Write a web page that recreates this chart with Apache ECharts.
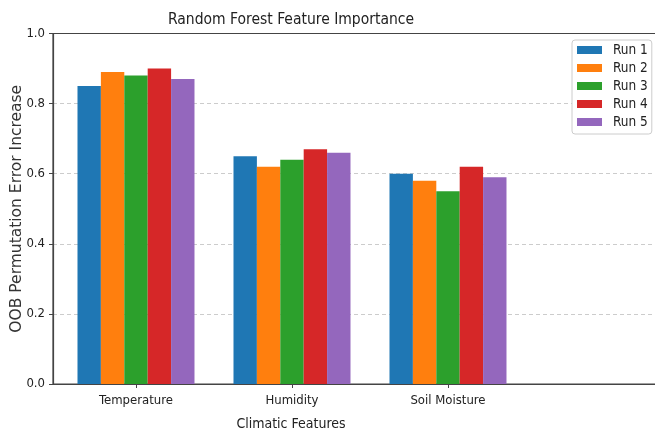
<!DOCTYPE html>
<html><head><meta charset="utf-8">
<script src="https://cdn.jsdelivr.net/npm/echarts@6/dist/echarts.min.js"></script>
<style>html,body{margin:0;padding:0;background:#fff}#c{width:655px;height:434px}</style>
</head><body><div id="c"></div>
<script>
const categories = ['Temperature', 'Humidity', 'Soil Moisture'];
const seriesNames = ['Run 1', 'Run 2', 'Run 3', 'Run 4', 'Run 5'];
const run1 = [0.85, 0.65, 0.60];
const run2 = [0.89, 0.62, 0.58];
const run3 = [0.88, 0.64, 0.55];
const run4 = [0.90, 0.67, 0.62];
const run5 = [0.87, 0.66, 0.59];
const xTickValues = [0, 1, 2];
const colors = ['#1f77b4', '#ff7f0e', '#2ca02c', '#d62728', '#9467bd'];
const runs = [run1, run2, run3, run4, run5];
const FONT = "'DejaVu Sans Condensed', 'DejaVu Sans', sans-serif";
const FONT_N = "'DejaVu Sans', sans-serif";

const chart = echarts.init(document.getElementById('c'), null, {renderer: 'canvas'});
chart.setOption({
  animation: false,
  textStyle: {fontFamily: FONT},
  title: {
    text: 'Random Forest Feature Importance',
    left: 286, top: 7, textAlign: 'center',
    textStyle: {fontFamily: FONT, fontSize: 15.5, fontWeight: 'normal', color: '#222'}
  },
  legend: {
    data: seriesNames,
    orient: 'vertical',
    left: 572, top: 40,
    itemWidth: 25, itemHeight: 8, itemGap: 4.0,
    icon: 'rect',
    padding: [3, 4, 5, 5],
    borderColor: '#ccc', borderWidth: 1, borderRadius: 3,
    backgroundColor: '#fff',
    textStyle: {fontFamily: FONT, fontSize: 13.5, lineHeight: 13.5, color: '#222', padding: [0, 0, 0, 6]}
  },
  grid: {
    left: 53, top: 33.5, right: -5, bottom: 50,
    outerBoundsMode: 'none', containLabel: false,
    show: true, borderColor: '#444', borderWidth: 1.2, backgroundColor: 'transparent'
  },
  xAxis: {
    type: 'value', min: -0.532, max: 3.359,
    name: 'Climatic Features', nameLocation: 'middle', nameGap: 33, nameMoveOverlap: false,
    nameTextStyle: {fontFamily: FONT, fontSize: 14, color: '#222', padding: [0, 131, 0, 0]},
    axisLine: {show: true, onZero: false, lineStyle: {color: '#444', width: 1.2}},
    axisTick: {show: true, length: 4, lineStyle: {color: '#444'}, customValues: xTickValues},
    axisLabel: {
      customValues: xTickValues, margin: 10,
      fontFamily: FONT, fontSize: 13, color: '#222',
      formatter: v => categories[Math.round(v)]
    },
    splitLine: {show: false}
  },
  yAxis: {
    type: 'value', min: 0, max: 1, interval: 0.2,
    name: 'OOB Permutation Error Increase', nameLocation: 'middle', nameGap: 28, nameMoveOverlap: false,
    nameTextStyle: {fontFamily: FONT_N, fontSize: 15.5, color: '#333'},
    axisLine: {show: true, onZero: false, lineStyle: {color: '#444', width: 1.2}},
    axisTick: {show: true, length: 4, lineStyle: {color: '#444'}},
    axisLabel: {fontFamily: FONT, fontSize: 13, color: '#222', margin: 8, formatter: v => v.toFixed(1)},
    splitLine: {show: true, showMinLine: false, showMaxLine: false, lineStyle: {color: '#ccc', type: [4, 3], width: 1}}
  },
  series: runs.map((r, k) => ({
    name: seriesNames[k], type: 'bar',
    barWidth: 23.4, barGap: '0%',
    itemStyle: {color: colors[k]},
    data: categories.map((c, i) => [i, r[i]])
  }))
});
</script></body></html>
